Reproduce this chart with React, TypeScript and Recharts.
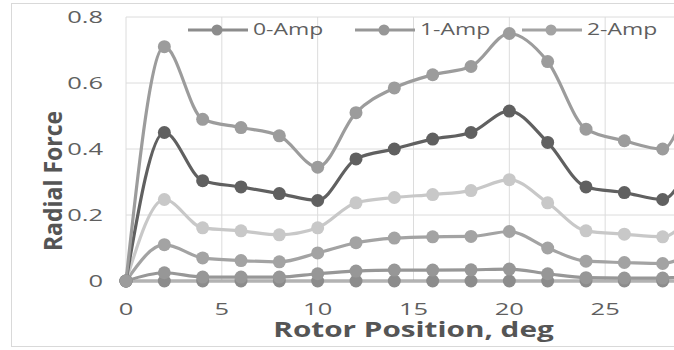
import React from 'react';
import { LineChart, Line, XAxis, YAxis, CartesianGrid, Legend } from 'recharts';

// rotor position (deg) and radial force per coil current
const positions = [0, 2, 4, 6, 8, 10, 12, 14, 16, 18, 20, 22, 24, 26, 28, 30];
const amp0 = [0, 0, 0, 0, 0, 0, 0, 0, 0, 0, 0, 0, 0, 0, 0, 0];
const amp1 = [0, 0.025, 0.012, 0.012, 0.012, 0.022, 0.03, 0.033, 0.033, 0.034, 0.036, 0.022, 0.01, 0.009, 0.009, 0.025];
const amp2 = [0, 0.11, 0.07, 0.062, 0.058, 0.085, 0.116, 0.13, 0.134, 0.135, 0.15, 0.1, 0.06, 0.056, 0.053, 0.11];
const amp3 = [0, 0.247, 0.161, 0.152, 0.14, 0.161, 0.237, 0.253, 0.262, 0.274, 0.307, 0.237, 0.152, 0.142, 0.134, 0.25];
const amp4 = [0, 0.45, 0.304, 0.285, 0.265, 0.244, 0.37, 0.4, 0.43, 0.45, 0.515, 0.42, 0.285, 0.268, 0.247, 0.45];
const amp5 = [0, 0.71, 0.49, 0.465, 0.44, 0.345, 0.51, 0.585, 0.625, 0.65, 0.75, 0.665, 0.46, 0.425, 0.4, 0.71];

const seriesNames = ['0-Amp', '1-Amp', '2-Amp', '3-Amp', '4-Amp', '5-Amp'];
const seriesKeys = ['a0', 'a1', 'a2', 'a3', 'a4', 'a5'];
const seriesColors = ['#8c8c8c', '#979797', '#a3a3a3', '#c8c8c8', '#606060', '#9c9c9c'];
const seriesValues = [amp0, amp1, amp2, amp3, amp4, amp5];

const xTicks = [0, 5, 10, 15, 20, 25, 30];
const yTicks = [0, 0.2, 0.4, 0.6, 0.8];

const data = positions.map((pos, i) => {
  const row: Record<string, number> = { pos };
  seriesKeys.forEach((k, s) => {
    row[k] = seriesValues[s][i];
  });
  return row;
});

const FONT = '"Open Sans", sans-serif';
const TEXT = '#5f5f5f';

const XTick = (props: any) => {
  const { x, y, payload } = props;
  return (
    <g transform={`translate(${x},${y})`}>
      <text transform="scale(1.5,1)" textAnchor="middle" y={34} fill={TEXT} fontSize={17} fontFamily={FONT}>
        {payload.value}
      </text>
    </g>
  );
};

const YTick = (props: any) => {
  const { x, y, payload } = props;
  return (
    <g transform={`translate(${x},${y})`}>
      <text transform="scale(1.5,1)" textAnchor="end" y={6} fill={TEXT} fontSize={17} fontFamily={FONT}>
        {payload.value}
      </text>
    </g>
  );
};

const XTitle = (props: any) => {
  const vb = props.viewBox || { x: 0, y: 0, width: 0 };
  return (
    <g transform={`translate(${vb.x + vb.width / 2},${vb.y + 56})`}>
      <text transform="scale(1.35,1)" textAnchor="middle" fill="#555" fontSize={22} fontWeight={700} fontFamily={FONT}>
        Rotor Position, deg
      </text>
    </g>
  );
};

const YTitle = () => (
  <g transform="translate(53,181) rotate(-90)">
    <text transform="scale(1,1.12)" textAnchor="middle" dy="0.36em" fill="#555" fontSize={23} fontWeight={700} fontFamily={FONT}>
      Radial Force
    </text>
  </g>
);

// legend drawn in one row across the top of the plot
const renderLegend = (props: any) => {
  const items = props.payload || [];
  return (
    <svg width={1100} height={45} style={{ display: 'block' }}>
      {items.map((item: any, i: number) => {
        const x0 = 188 + i * 167;
        return (
          <g key={item.value}>
            <line x1={x0} x2={x0 + 60} y1={30} y2={30} stroke={item.color} strokeWidth={3} />
            <circle cx={x0 + 29} cy={30} r={5.5} fill={item.color} />
            <g transform={`translate(${x0 + 65},35)`}>
              <text transform="scale(1.35,1)" fill={TEXT} fontSize={17} fontFamily={FONT}>
                {item.value}
              </text>
            </g>
          </g>
        );
      })}
    </svg>
  );
};

export default function App() {
  return (
    <div style={{ position: 'absolute', left: 0, top: 0, width: 674, height: 350, overflow: 'hidden', background: '#fff' }}>
      <div
        style={{
          position: 'absolute',
          left: 11,
          top: 3,
          width: 720,
          height: 342,
          border: '1px solid #d9d9d9',
        }}
      />
      <div style={{ position: 'absolute', left: 0, top: 0 }}>
        <LineChart width={730} height={350} data={data} margin={{ top: 17, right: 29, left: 66, bottom: 29 }}>
          <CartesianGrid stroke="#dcdcdc" strokeWidth={1} />
          <XAxis
            dataKey="pos"
            type="number"
            domain={[0, 30]}
            ticks={xTicks}
            height={40}
            axisLine={{ stroke: '#d9d9d9' }}
            tickLine={false}
            tickSize={0}
            tickMargin={0}
            tick={<XTick />}
            label={<XTitle />}
          />
          <YAxis
            type="number"
            domain={[0, 0.8]}
            ticks={yTicks}
            width={60}
            axisLine={false}
            tickLine={false}
            tickSize={0}
            tickMargin={23}
            tick={<YTick />}
            label={<YTitle />}
          />
          <Legend
            verticalAlign="middle"
            layout="horizontal"
            wrapperStyle={{ left: 0, top: 0, width: 1100 }}
            content={renderLegend}
          />
          {seriesKeys.map((k, s) => (
            <Line
              key={k}
              dataKey={k}
              name={seriesNames[s]}
              type="monotone"
              stroke={seriesColors[s]}
              strokeWidth={3.2}
              dot={{ r: 6.5, fill: seriesColors[s], stroke: seriesColors[s], strokeWidth: 0 }}
              activeDot={false}
              isAnimationActive={false}
            />
          ))}
        </LineChart>
      </div>
    </div>
  );
}
